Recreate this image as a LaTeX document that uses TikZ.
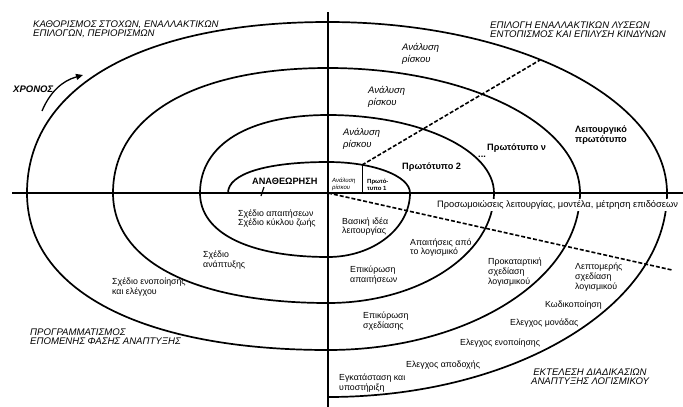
\documentclass[tikz,border=0pt]{standalone}
\usepackage{fontspec}
\setmainfont{Liberation Sans}
\usetikzlibrary{arrows.meta}
\begin{document}
\begin{tikzpicture}[x=1pt,y=-1pt,
  curve/.style={line width=1.7pt},
  axis/.style={line width=1.7pt},
  dashline/.style={line width=1.6pt, dash pattern=on 4pt off 2pt},
  lbl/.style={inner sep=0pt, anchor=west, align=left, font=\fontsize{8.8}{9.8}\selectfont},
  quad/.style={inner sep=0pt, anchor=west, align=left, font=\fontsize{9.6}{9.2}\selectfont\itshape},
  risk/.style={inner sep=0pt, anchor=west, align=left, font=\fontsize{9.5}{11.5}\selectfont\itshape},
  proto/.style={inner sep=0pt, anchor=west, align=left, font=\fontsize{9.2}{10}\selectfont\bfseries}]
\useasboundingbox (0,0) rectangle (683,407);
% axes
\coordinate (O) at (328,193);
\coordinate (hl) at (12,193);
\coordinate (hr) at (683,193);
\coordinate (vt) at (328,12);
\coordinate (vb) at (328,407);
\draw[axis] (hl) -- (hr);
\draw[axis] (vt) -- (vb);
% spiral
\draw[curve] (228,193) .. controls (228,173.8) and (266,162) .. (328,162)
  .. controls (373.3,162) and (410,175.9) .. (410,193)
  .. controls (410,228.3) and (373.3,257) .. (328,257)
  .. controls (248.6,257) and (200,232.7) .. (200,193)
  .. controls (200,144.6) and (248.6,115) .. (328,115)
  .. controls (419.7,115) and (494,149.9) .. (494,193)
  .. controls (494,253.8) and (419.7,303) .. (328,303)
  .. controls (194.7,303) and (113,261.2) .. (113,193)
  .. controls (113,115.5) and (194.7,68) .. (328,68)
  .. controls (467.2,68) and (580,124) .. (580,193)
  .. controls (580,279.7) and (467.2,350) .. (328,350)
  .. controls (141.4,350) and (27,290.3) .. (27,193)
  .. controls (27,87) and (141.4,22) .. (328,22)
  .. controls (515.2,22) and (667,98.6) .. (667,193)
  .. controls (667,305.7) and (515.2,397) .. (328,397);
% dashed and thin lines
\coordinate (p1) at (362,165);
\coordinate (p1b) at (362,193);
\coordinate (p2) at (540,60);
\coordinate (p3) at (672,270);
\draw[dashline] (p1) -- (p2);
\draw[dashline] (O) -- (p3);
\draw[line width=0.8pt] (p1) -- (p1b);
\coordinate (t1) at (261,196);
\coordinate (t2) at (264,187);
\draw[line width=1.2pt] (t1) -- (t2);
% time arrow
\coordinate (a1) at (42,111);
\coordinate (a2) at (83,75);
\draw[line width=1.3pt, -{Triangle[length=7pt,width=6pt]}] (a1) .. controls (50,92) and (62,81) .. (a2);
\node[inner sep=0pt, anchor=west, font=\fontsize{9.5}{10}\selectfont\bfseries\itshape] (chronos) at (13,89) {ΧΡΟΝΟΣ};
% quadrant labels
\node[quad] (q1) at (33,29.5) {ΚΑΘΟΡΙΣΜΟΣ ΣΤΟΧΩΝ, ΕΝΑΛΛΑΚΤΙΚΩΝ\\ΕΠΙΛΟΓΩΝ, ΠΕΡΙΟΡΙΣΜΩΝ};
\node[quad] (q2) at (490,29.5) {ΕΠΙΛΟΓΗ ΕΝΑΛΛΑΚΤΙΚΩΝ ΛΥΣΕΩΝ\\ΕΝΤΟΠΙΣΜΟΣ ΚΑΙ ΕΠΙΛΥΣΗ ΚΙΝΔΥΝΩΝ};
\node[quad] (q3) at (30,336.5) {ΠΡΟΓΡΑΜΜΑΤΙΣΜΟΣ\\ ΕΠΟΜΕΝΗΣ ΦΑΣΗΣ ΑΝΑΠΤΥΞΗΣ};
\node[quad, anchor=center, align=center] (q4) at (590,376.5) {ΕΚΤΕΛΕΣΗ ΔΙΑΔΙΚΑΣΙΩΝ\\ΑΝΑΠΤΥΞΗΣ ΛΟΓΙΣΜΙΚΟΥ};
% risk analysis
\node[risk] (r4) at (402,54) {Ανάλυση\\ρίσκου};
\node[risk] (r3) at (368,97) {Ανάλυση\\ρίσκου};
\node[risk] (r2) at (343,139) {Ανάλυση\\ρίσκου};
\node[inner sep=0pt, anchor=west, align=left, font=\fontsize{6}{7}\selectfont\itshape] (r1) at (332,184) {Ανάλυση\\ρίσκου};
% prototypes
\node[inner sep=0pt, anchor=west, align=left, font=\fontsize{6}{7}\selectfont\bfseries] (pr1) at (367,185) {Πρωτό-\\τυπο 1};
\node[proto] (pr2) at (402,167) {Πρωτότυπο 2};
\node[proto] (dots) at (478,157) {...};
\node[proto] (prn) at (487,148) {Πρωτότυπο ν};
\node[proto] (prl) at (575,135) {Λειτουργικό\\πρωτότυπο};
\node[proto] (rev) at (252,181) {ΑΝΑΘΕΩΡΗΣΗ};
% simulations
\node[lbl, fill=white, inner ysep=1.5pt, font=\fontsize{9.3}{10}\selectfont] (sim) at (437,205) {Προσωμοιώσεις λειτουργίας, μοντέλα, μέτρηση επιδόσεων};
% lower labels
\node[lbl] (l1) at (238,218.5) {Σχέδιο απαιτήσεων\\Σχέδιο κύκλου ζωής};
\node[lbl] (l2) at (342,226.5) {Βασική ιδέα\\λειτουργίας};
\node[lbl] (l3) at (410,247.5) {Απαιτήσεις από\\το λογισμικό};
\node[lbl] (l4) at (350,275) {Επικύρωση\\απαιτήσεων};
\node[lbl] (l5) at (203,260) {Σχέδιο\\ανάπτυξης};
\node[lbl] (l6) at (112,287) {Σχέδιο ενοποίησης\\και ελέγχου};
\node[lbl] (l7) at (488,272) {Προκαταρτική\\σχεδίαση\\λογισμικού};
\node[lbl] (l8) at (575,277) {Λεπτομερής\\σχεδίαση\\λογισμικού};
\node[lbl] (l9) at (545,305) {Κωδικοποίηση};
\node[lbl] (l10) at (510,323) {Ελεγχος μονάδας};
\node[lbl] (l11) at (460,343) {Ελεγχος ενοποίησης};
\node[lbl] (l12) at (406,365) {Ελεγχος αποδοχής};
\node[lbl] (l13) at (339,383) {Εγκατάσταση και\\υποστήριξη};
\node[lbl] (l14) at (363,321) {Επικύρωση\\σχεδίασης};
\end{tikzpicture}
\end{document}
